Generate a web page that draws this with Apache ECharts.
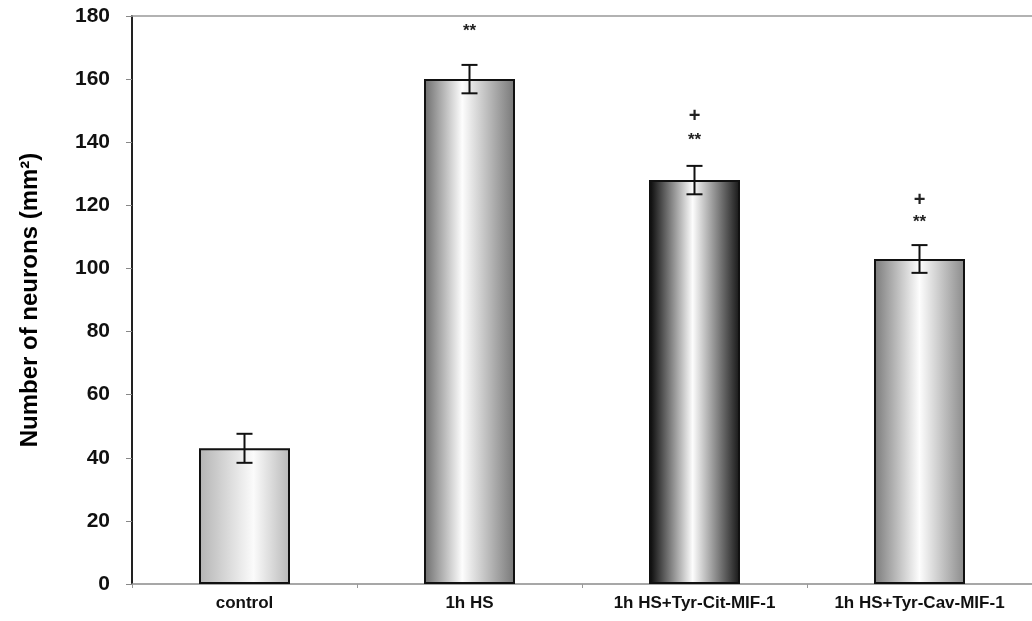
<!DOCTYPE html>
<html>
<head>
<meta charset="utf-8">
<script src="https://cdn.jsdelivr.net/npm/echarts@6/dist/echarts.min.js"></script>
<style>
  html, body { margin: 0; padding: 0; background: #fff; }
  #chart { width: 1032px; height: 621px; }
</style>
</head>
<body>
<div id="chart"></div>
<script>
  // groups and values (mean, +/- error)
  var categories = ['control', '1h HS', '1h HS+Tyr-Cit-MIF-1', '1h HS+Tyr-Cav-MIF-1']
  var means = [43, 160, 128, 103]
  var errors = [4.6, 4.5, 4.5, 4.4]
  // significance marks and their heights
  var starMarks = ['', '**', '**', '**']
  var starLevel = [null, 175, 140.5, 114.5]
  var plusMarks = ['', '', '+', '+']
  var plusLevel = [null, null, 148, 121.5]
  var yTicks = [0, 20, 40, 60, 80, 100, 120, 140, 160, 180]

  // shading of each bar: edge, highlight, edge, highlight position
  var shades = [
    ['#b4b4b4', '#fbfbfb', '#b8b8b8', 0.6],
    ['#6c6c6c', '#fdfdfd', '#777777', 0.42],
    ['#050505', '#fdfdfd', '#151515', 0.48],
    ['#7a7a7a', '#fdfdfd', '#8a8a8a', 0.5]
  ]

  var textFont = "'Liberation Sans', Arial, sans-serif"

  var chart = echarts.init(document.getElementById('chart'))

  var barData = means.map(function (v, i) {
    var s = shades[i]
    return {
      value: v,
      itemStyle: {
        color: new echarts.graphic.LinearGradient(0, 0, 1, 0, [
          { offset: 0, color: s[0] },
          { offset: s[3], color: s[1] },
          { offset: 1, color: s[2] }
        ])
      }
    }
  })

  var errData = means.map(function (v, i) {
    return [i, v - errors[i], v + errors[i]]
  })

  // text marks above the bars
  var markData = []
  starMarks.forEach(function (m, i) {
    if (m) markData.push({ value: [i, starLevel[i]], mark: m })
  })
  plusMarks.forEach(function (m, i) {
    if (m) markData.push({ value: [i, plusLevel[i]], mark: m })
  })

  chart.setOption({
    animation: false,
    grid: {
      left: 132,
      right: -4,
      top: 16,
      bottom: 37
    },
    xAxis: [{
      type: 'category',
      data: categories,
      boundaryGap: true,
      axisLine: { lineStyle: { color: '#8a8a8a', width: 1.5 } },
      axisTick: { show: true, length: 4, lineStyle: { color: '#999' } },
      axisLabel: {
        color: '#111',
        fontWeight: 'bold',
        fontSize: 17,
        fontFamily: textFont,
        margin: 11,
        interval: 0
      }
    }, {
      type: 'category',
      data: categories,
      position: 'top',
      axisLine: { show: true, lineStyle: { color: '#999', width: 1.5 } },
      axisTick: { show: false },
      axisLabel: { show: false }
    }],
    yAxis: {
      type: 'value',
      min: 0,
      max: 180,
      interval: 20,
      name: 'Number of neurons (mm²)',
      nameLocation: 'middle',
      nameRotate: 90,
      nameGap: 90,
      nameTextStyle: {
        color: '#000',
        fontWeight: 'bold',
        fontSize: 24,
        fontFamily: textFont
      },
      axisLine: { show: true, lineStyle: { color: '#222', width: 2 } },
      axisTick: { show: true, length: 6, lineStyle: { color: '#888' } },
      splitLine: { show: false },
      axisLabel: {
        color: '#111',
        fontWeight: 'bold',
        fontSize: 21,
        fontFamily: textFont,
        margin: 22,
        formatter: function (v) {
          return yTicks.indexOf(v) >= 0 ? String(v) : ''
        }
      }
    },
    series: [{
      type: 'bar',
      data: barData,
      barWidth: 91,
      itemStyle: { borderColor: '#111', borderWidth: 2 }
    }, {
      type: 'custom',
      data: errData,
      z: 5,
      renderItem: function (params, api) {
        var lo = api.coord([api.value(0), api.value(1)])
        var hi = api.coord([api.value(0), api.value(2)])
        var cap = 8
        var st = { stroke: '#111', lineWidth: 2 }
        return {
          type: 'group',
          children: [
            { type: 'line', shape: { x1: hi[0], y1: hi[1], x2: lo[0], y2: lo[1] }, style: st },
            { type: 'line', shape: { x1: hi[0] - cap, y1: hi[1], x2: hi[0] + cap, y2: hi[1] }, style: st },
            { type: 'line', shape: { x1: lo[0] - cap, y1: lo[1], x2: lo[0] + cap, y2: lo[1] }, style: st }
          ]
        }
      }
    }, {
      type: 'custom',
      data: markData,
      z: 6,
      renderItem: function (params, api) {
        var p = api.coord([api.value(0), api.value(1)])
        var m = markData[params.dataIndex].mark
        return {
          type: 'text',
          x: p[0],
          y: p[1],
          style: {
            text: m,
            fill: '#222',
            font: 'bold ' + (m === '+' ? 20 : 17) + 'px ' + textFont,
            align: 'center',
            verticalAlign: 'middle'
          }
        }
      }
    }]
  })
</script>
</body>
</html>
